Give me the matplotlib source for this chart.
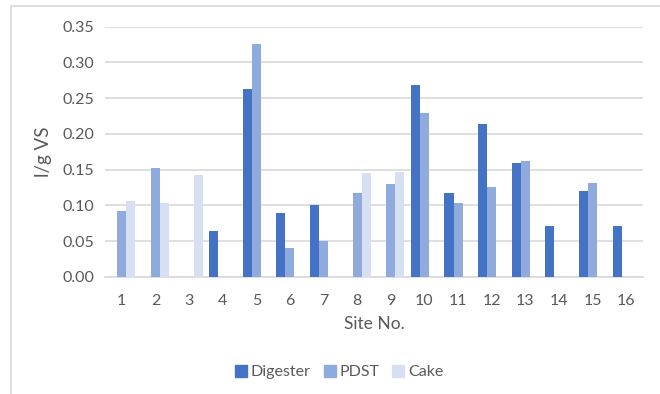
import numpy as np
import matplotlib.pyplot as plt
from matplotlib.patches import Rectangle
from matplotlib.lines import Line2D

sites = [str(i) for i in range(1, 17)]
digester = [0, 0, 0, 0.064, 0.262, 0.090, 0.101, 0, 0, 0.268, 0.118, 0.214, 0.159, 0.071, 0.120, 0.071]
pdst = [0.092, 0.152, 0, 0, 0.326, 0.040, 0.050, 0.118, 0.130, 0.229, 0.104, 0.126, 0.162, 0, 0.132, 0]
cake = [0.106, 0.104, 0.142, 0, 0, 0, 0, 0.146, 0.147, 0, 0, 0, 0, 0, 0, 0]
yticks = [0.00, 0.05, 0.10, 0.15, 0.20, 0.25, 0.30, 0.35]
series = ["Digester", "PDST", "Cake"]
colors = ["#4472C4", "#8FAADC", "#D6E0F2"]

W, H = 660, 394
text_col = "#595959"
plt.rcParams['font.family'] = ['Lato', 'DejaVu Sans']

fig = plt.figure(figsize=(W / 100, H / 100), dpi=100)
# chart border
fig.patches.append(Rectangle((11 / W, -0.1), 1.2, 1 - 6 / H + 0.1, transform=fig.transFigure,
                             fill=False, edgecolor="#d9d9d9", linewidth=1.2))

ax = fig.add_axes([105 / W, 1 - 277 / H, (643 - 105) / W, (277 - 26.5) / H])
x = np.arange(len(sites))
bw = 0.27
for i, vals in enumerate([digester, pdst, cake]):
    ax.bar(x + (i - 1) * bw, vals, bw, color=colors[i], zorder=3)

ax.set_xlim(-0.5, len(sites) - 0.5)
ax.set_ylim(0, 0.35)
ax.set_yticks(yticks)
ax.set_yticklabels([f"{t:.2f}" for t in yticks])
ax.set_xticks(x)
ax.set_xticklabels(sites)
ax.grid(axis="y", color="#d9d9d9", linewidth=1.2, zorder=0)
for s in ["top", "right", "left"]:
    ax.spines[s].set_visible(False)
ax.spines["bottom"].set_color("#d9d9d9")
ax.spines["bottom"].set_linewidth(1.2)
ax.tick_params(length=0, labelsize=11.5, colors=text_col, pad=8)
ax.tick_params(axis="x", pad=12)
ax.set_xlabel("Site No.", fontsize=12.5, color=text_col, labelpad=6)
ax.set_ylabel("l/g VS", fontsize=13.5, color=text_col, labelpad=7)

handles = [Line2D([], [], marker="s", linestyle="", markersize=8, color=c) for c in colors]
fig.legend(handles, series, loc="center", bbox_to_anchor=(339 / W, 1 - 372 / H), ncol=3,
           frameon=False, fontsize=11.5, labelcolor=text_col, handlelength=0.8,
           handletextpad=0.2, columnspacing=0.8)

fig.savefig("out.png", dpi=100)
